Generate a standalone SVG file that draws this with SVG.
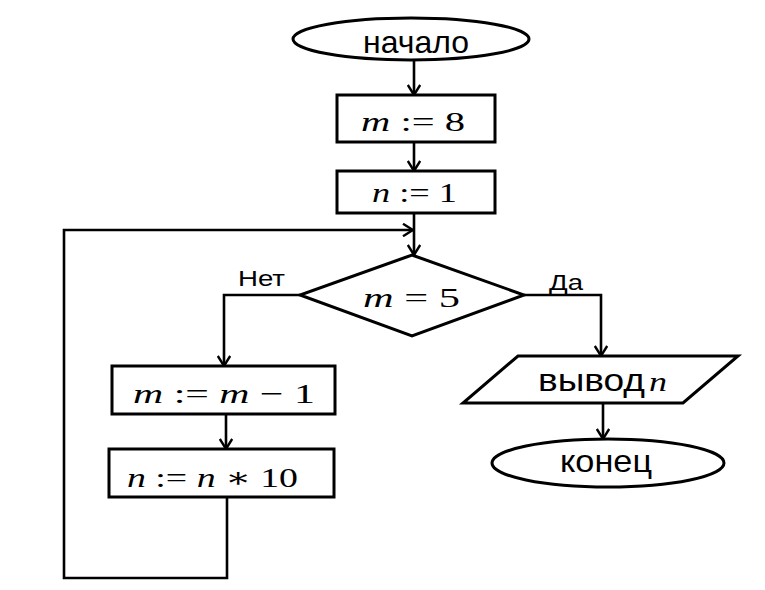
<svg xmlns="http://www.w3.org/2000/svg" width="765" height="590" viewBox="0 0 765 590">
<style>
.shape{fill:#fff;stroke:#000;stroke-width:3}
.conn{fill:none;stroke:#000;stroke-width:2.6}
.t{font-family:"Liberation Sans",Arial,sans-serif;fill:#000}
.m{font-family:"Liberation Serif","DejaVu Serif",serif;font-size:28px;fill:#000}
.v{font-style:italic}
</style>
<defs>
<marker id="ah" viewBox="0 0 12 14" refX="11" refY="7" markerWidth="12" markerHeight="14" markerUnits="userSpaceOnUse" orient="auto">
<path d="M1,0.8 L11,7 L1,13.2" fill="none" stroke="#000" stroke-width="2.4"/>
</marker>
</defs>
<rect width="765" height="590" fill="#fff"/>
<g id="connectors">
<path class="conn" d="M414,60 V95" marker-end="url(#ah)"/>
<path class="conn" d="M414,142 V171" marker-end="url(#ah)"/>
<path class="conn" d="M414,213 V255" marker-end="url(#ah)"/>
<path class="conn" d="M300,295 H224 V366" marker-end="url(#ah)"/>
<path class="conn" d="M524,295 H601 V356" marker-end="url(#ah)"/>
<path class="conn" d="M226,414 V449" marker-end="url(#ah)"/>
<path class="conn" d="M227,497 V578 H64 V230 H413" marker-end="url(#ah)"/>
<path class="conn" d="M603,403 V439" marker-end="url(#ah)"/>
<text class="t" x="238" y="286" font-size="22" textLength="47" lengthAdjust="spacingAndGlyphs">Нет</text>
<text class="t" x="549" y="290" font-size="22" textLength="34" lengthAdjust="spacingAndGlyphs">Да</text>
</g>
<g id="start">
<ellipse class="shape" cx="411" cy="39" rx="118" ry="21"/>
<text class="t" x="363" y="53" font-size="32" textLength="106" lengthAdjust="spacingAndGlyphs">начало</text>
</g>
<g id="m8">
<rect class="shape" x="337" y="95" width="158" height="47"/>
<text class="m" x="361" y="131" textLength="104" lengthAdjust="spacingAndGlyphs"><tspan class="v">m</tspan> := 8</text>
</g>
<g id="n1">
<rect class="shape" x="337" y="171" width="158" height="42"/>
<text class="m" x="372" y="202" textLength="85" lengthAdjust="spacingAndGlyphs"><tspan class="v">n</tspan> := 1</text>
</g>
<g id="cond">
<polygon class="shape" points="412,255 524,295 412,336 300,295"/>
<text class="m" x="363" y="307" textLength="97" lengthAdjust="spacingAndGlyphs"><tspan class="v">m</tspan> = 5</text>
</g>
<g id="dec">
<rect class="shape" x="112" y="366" width="223" height="48"/>
<text class="m" x="133" y="403" textLength="182" lengthAdjust="spacingAndGlyphs"><tspan class="v">m</tspan> := <tspan class="v">m</tspan> − 1</text>
</g>
<g id="mul">
<rect class="shape" x="109" y="449" width="225" height="48"/>
<text class="m" x="127" y="487" textLength="171" lengthAdjust="spacingAndGlyphs"><tspan class="v">n</tspan> := <tspan class="v">n</tspan> ∗ 10</text>
</g>
<g id="out">
<polygon class="shape" points="518,356 738,356 683,403 463,403"/>
<text class="t" x="538" y="391" font-size="31" textLength="107" lengthAdjust="spacingAndGlyphs">вывод</text>
<text class="m v" x="649" y="391" textLength="18" lengthAdjust="spacingAndGlyphs">n</text>
</g>
<g id="end">
<ellipse class="shape" cx="608" cy="463" rx="116" ry="24"/>
<text class="t" x="560" y="472" font-size="32" textLength="92" lengthAdjust="spacingAndGlyphs">конец</text>
</g>
</svg>
